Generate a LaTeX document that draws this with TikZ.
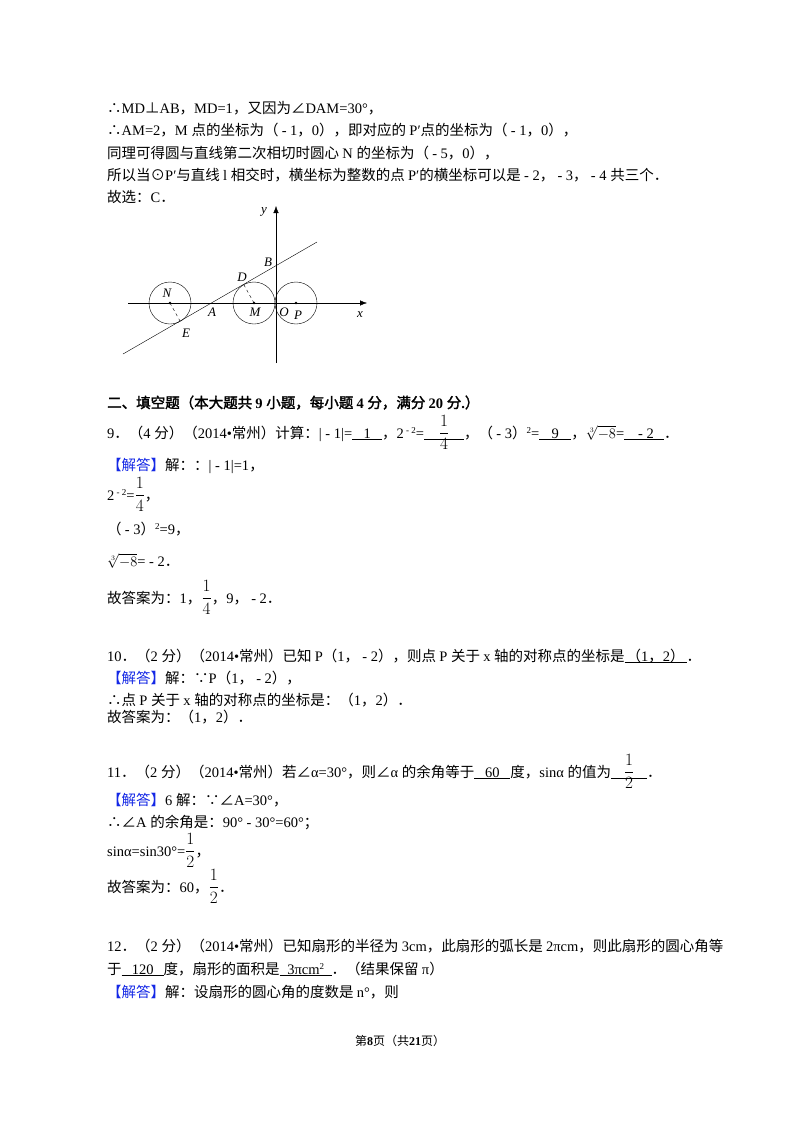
\documentclass[tikz,border=0pt]{standalone}
\usepackage{amsmath}
\usepackage{fontspec}
\usetikzlibrary{arrows.meta}
\setmainfont{Liberation Serif}
\newfontfamily\latinfont{Liberation Serif}
\newfontfamily\cjkfont{Noto Sans CJK SC}[AutoFakeBold=2]
\XeTeXinterchartokenstate=1
\newXeTeXintercharclass\CJKcls
\count255="4E00
\loop \XeTeXcharclass\count255=\CJKcls \ifnum\count255<"9FFF \advance\count255 1 \repeat
\count255="3000
\loop \XeTeXcharclass\count255=\CJKcls \ifnum\count255<"303F \advance\count255 1 \repeat
\count255="FF00
\loop \XeTeXcharclass\count255=\CJKcls \ifnum\count255<"FF5F \advance\count255 1 \repeat
\XeTeXcharclass"2234=\CJKcls \XeTeXcharclass"2235=\CJKcls
\XeTeXcharclass"2220=\CJKcls \XeTeXcharclass"22A5=\CJKcls \XeTeXcharclass"2299=\CJKcls
\XeTeXinterchartoks 0 \CJKcls = {\cjkfont}
\XeTeXinterchartoks 4095 \CJKcls = {\cjkfont}
\XeTeXinterchartoks \CJKcls 0 = {\latinfont}
\XeTeXinterchartoks 4095 0 = {\latinfont}
\newcommand\blankfill[2]{\rlap{\rule[-2pt]{#1}{0.6pt}}\makebox[#1]{#2}}
\newcommand\msup[1]{\raisebox{5pt}{\fontsize{9}{10}\selectfont #1}}
\newcommand\fr[2]{{\fontsize{16}{18}\selectfont$\dfrac{#1}{#2}$}}
\definecolor{jdblue}{RGB}{20,40,230}
\newcommand\jd{{\color{jdblue}【解答】}}
\begin{document}
\begin{tikzpicture}[x=1pt,y=-1pt,
  txt/.style={anchor=base west,inner sep=0pt,font=\fontsize{14.5}{17}\selectfont},
  lab/.style={inner sep=0pt,font=\fontsize{13}{15}\selectfont\itshape}]
\useasboundingbox (0,0) rectangle (800,1132);
\fill[white] (0,0) rectangle (800,1132);
% top text
\node[txt] (t1) at (107,113) {∴MD⊥AB，MD=1，又因为∠DAM=30°，};
\node[txt] (t2) at (107,135) {∴AM=2，M 点的坐标为（ - 1，0），即对应的 P′点的坐标为（ - 1，0），};
\node[txt] (t3) at (107,158) {同理可得圆与直线第二次相切时圆心 N 的坐标为（ - 5，0），};
\node[txt] (t4) at (107,180) {所以当⊙P′与直线 l 相交时，横坐标为整数的点 P′的横坐标可以是 - 2， - 3， - 4 共三个．};
\node[txt] (t5) at (107,202) {故选：C．};
% diagram
\coordinate (xs) at (128,303); \coordinate (xe) at (367,303);
\coordinate (ys) at (276,363); \coordinate (ye) at (276,206);
\draw[-{Latex[length=7pt]}] (xs) -- (xe);
\draw[-{Latex[length=7pt]}] (ys) -- (ye);
\coordinate (N) at (170,303); \coordinate (M) at (254,303); \coordinate (P) at (296,303);
\draw (N) circle (21); \draw (M) circle (21); \draw (P) circle (21);
\fill (N) circle (1.3); \fill (M) circle (1.3); \fill (P) circle (1.3);
\coordinate (l1) at (123,354); \coordinate (l2) at (317,242);
\draw (l1) -- (l2);
\coordinate (E) at (180,321); \coordinate (D) at (244,285);
\draw[dashed] (N) -- (E); \draw[dashed] (M) -- (D);
\node[lab] (ly) at (264,212) {y};
\node[lab] (lB) at (268,262) {B};
\node[lab] (lD) at (242,277) {D};
\node[lab] (lN) at (167,293) {N};
\node[lab] (lA) at (212,312) {A};
\node[lab] (lM) at (255,312) {M};
\node[lab] (lO) at (284,312) {O};
\node[lab] (lP) at (298,315) {P};
\node[lab] (lE) at (186,333) {E};
\node[lab] (lx) at (360,315) {x};
% section 2
\node[txt,font=\fontsize{14.5}{17}\selectfont\bfseries] (h2) at (107,408) {二、填空题（本大题共 9 小题，每小题 4 分，满分 20 分.）};
\node[txt] (q9) at (107,438) {9．（4 分）（2014•常州）计算：| - 1|=\blankfill{30pt}{1}，2\msup{ - 2}=\blankfill{40pt}{\fr{1}{4}}，（ - 3）\msup{2}=\blankfill{32pt}{9}，$\sqrt[3]{-8}$=\blankfill{40pt}{ - 2}．};
\node[txt] (a9) at (107,470) {\jd 解：：| - 1|=1，};
\node[txt] (a9b) at (107,500) {2\msup{ - 2}=\fr{1}{4}，};
\node[txt] (a9c) at (107,534) {（ - 3）\msup{2}=9，};
\node[txt] (a9d) at (107,566) {$\sqrt[3]{-8}$= - 2．};
\node[txt] (a9e) at (107,603) {故答案为：1，\fr{1}{4}，9， - 2．};
% Q10
\node[txt] (q10) at (107,661) {10．（2 分）（2014•常州）已知 P（1， - 2），则点 P 关于 x 轴的对称点的坐标是\blankfill{62pt}{（1，2）}．};
\node[txt] (a10) at (107,683) {\jd 解：∵P（1， - 2），};
\node[txt] (a10b) at (107,705) {∴点 P 关于 x 轴的对称点的坐标是：（1，2）．};
\node[txt] (a10c) at (107,722) {故答案为：（1，2）．};
% Q11
\node[txt] (q11) at (107,777) {11．（2 分）（2014•常州）若∠α=30°，则∠α 的余角等于\blankfill{36pt}{60}度，sinα 的值为\blankfill{36pt}{\fr{1}{2}}．};
\node[txt] (a11) at (107,805) {\jd 6 解：∵∠A=30°，};
\node[txt] (a11b) at (107,827) {∴∠A 的余角是：90° - 30°=60°；};
\node[txt] (a11c) at (107,856) {sinα=sin30°=\fr{1}{2}，};
\node[txt] (a11d) at (107,892) {故答案为：60，\fr{1}{2}．};
% Q12
\node[txt] (q12) at (107,951) {12．（2 分）（2014•常州）已知扇形的半径为 3cm，此扇形的弧长是 2πcm，则此扇形的圆心角等};
\node[txt] (q12b) at (107,974) {于\blankfill{42pt}{120}度，扇形的面积是\blankfill{52pt}{3πcm\msup{2}}．（结果保留 π）};
\node[txt] (a12) at (107,997) {\jd 解：设扇形的圆心角的度数是 n°，则};
% footer
\node[anchor=base,inner sep=0pt,font=\fontsize{12}{14}\selectfont] (ft) at (400,1045) {第\textbf{\latinfont 8}页（共\textbf{\latinfont 21}页）};
\end{tikzpicture}
\end{document}
